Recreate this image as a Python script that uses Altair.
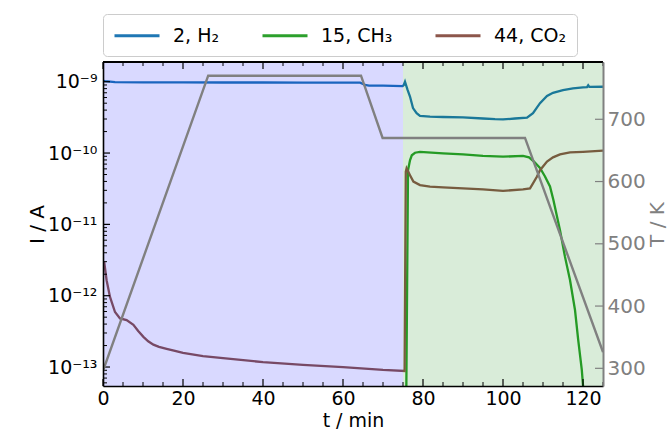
import altair as alt
import pandas as pd

# ---------------- data ----------------
series_names = ["2, H₂", "15, CH₃", "44, CO₂"]
series_colors = ["#1f77b4", "#2ca02c", "#8c564b"]

# m/z 2 (H2) ion current, t in min, I in A
h2_t = [0, 0.5, 3, 10, 20, 30, 40, 50, 60, 64.3, 65.5, 66.5, 70, 74.9, 75.2, 75.5,
        76.1, 76.75, 77.5, 78.4, 79.25, 81.75, 85, 90, 95, 98, 100, 103, 106, 107.5,
        109.25, 111, 112.5, 115, 117.5, 120, 121, 121.3, 121.6, 125]
h2_i = [1.03e-9, 1.02e-9, 9.9e-10, 9.8e-10, 9.8e-10, 9.75e-10, 9.75e-10, 9.7e-10, 9.7e-10,
        9.7e-10, 9.0e-10, 8.8e-10, 8.8e-10, 8.7e-10, 9.0e-10, 1.0e-9,
        7.8e-10, 6.2e-10, 4.27e-10, 3.63e-10, 3.33e-10, 3.24e-10, 3.2e-10, 3.16e-10, 3.05e-10,
        2.98e-10, 2.96e-10, 3.05e-10, 3.13e-10, 3.63e-10, 5.0e-10, 6.3e-10, 7.0e-10, 7.6e-10,
        8.07e-10, 8.34e-10, 8.4e-10, 8.9e-10, 8.45e-10, 8.5e-10]

# m/z 15 (CH3) ion current
ch3_t = [75.6, 76.25, 76.75, 77.2, 78, 79.25, 85, 90, 95, 100, 105, 106.5, 107.75, 109.25,
         110.5, 111.75, 112.6, 114.25, 115.5, 116.75, 118, 118.8, 119.7, 120.2, 121, 125]
ch3_i = [1e-15, 5.75e-11, 7.9e-11, 9.3e-11, 1.01e-10, 1.04e-10, 9.9e-11, 9.55e-11, 9.1e-11,
         8.9e-11, 9.1e-11, 8.7e-11, 7.6e-11, 6.2e-11, 4.7e-11, 3.4e-11, 2.2e-11, 8.3e-12,
         3.5e-12, 1.66e-12, 6.3e-13, 2.4e-13, 9.1e-14, 4e-14, 1e-15, 1e-16]

# m/z 44 (CO2) ion current
co2_t = [0.3, 0.9, 1.75, 3.0, 4.25, 5.9, 7.6, 8.8, 10.1, 11.3, 12.6, 14.0, 15.9, 18, 20, 25,
         30, 40, 50, 60, 70, 75.4, 75.7, 75.9, 76.75, 77.6, 79.25, 81.75, 85, 90, 95, 100,
         105, 106.75, 107.5, 108.5, 109.25, 111, 112.5, 114.25, 116.75, 120, 125]
co2_i = [2.98e-12, 1.65e-12, 9.6e-13, 5.9e-13, 4.8e-13, 4.54e-13, 3.9e-13, 3.2e-13, 2.65e-13,
         2.3e-13, 2.06e-13, 1.92e-13, 1.8e-13, 1.68e-13, 1.58e-13, 1.42e-13, 1.33e-13,
         1.17e-13, 1.07e-13, 1.0e-13, 9.1e-14, 8.8e-14, 5.5e-11, 6.1e-11, 4.9e-11, 3.98e-11,
         3.55e-11, 3.39e-11, 3.31e-11, 3.2e-11, 3.09e-11, 2.95e-11, 3.09e-11, 3.2e-11,
         3.76e-11, 4.68e-11, 5.75e-11, 7.6e-11, 8.7e-11, 9.55e-11, 1.02e-10, 1.04e-10,
         1.08e-10]

# sample temperature program
temp_t = [0, 26.3, 64.5, 69.9, 105.5, 125]
temp_k = [296, 770, 770, 670, 670, 326]

# gas atmosphere phases
phase_start = [0, 75]
phase_end = [75, 125]
phase_fill = ["blue", "green"]

# axis ticks
x_major = [0, 20, 40, 60, 80, 100, 120]
x_minor = [v for v in range(0, 126, 5) if v % 20 != 0]
i_major = [1e-13, 1e-12, 1e-11, 1e-10, 1e-9]
i_minor = [k * 10.0 ** e for e in range(-14, -8) for k in range(2, 10)
           if 5.42e-14 <= k * 10.0 ** e <= 1.89e-9]
t_major = [300, 400, 500, 600, 700]

# ---------------- tables ----------------
ions = pd.concat([
    pd.DataFrame({"t": h2_t, "I": h2_i, "series": series_names[0]}),
    pd.DataFrame({"t": ch3_t, "I": ch3_i, "series": series_names[1]}),
    pd.DataFrame({"t": co2_t, "I": co2_i, "series": series_names[2]}),
], ignore_index=True)
temps = pd.DataFrame({"t": temp_t, "T": temp_k})
phases = pd.DataFrame({"start": phase_start, "end": phase_end, "fill": phase_fill})

W, H = 500, 324
FONT = "DejaVu Sans"
FS = 20

x_scale = alt.Scale(domain=[0, 125], nice=False, zero=False)
i_scale = alt.Scale(type="log", domain=[5.42e-14, 1.89e-9], nice=False)
t_scale = alt.Scale(domain=[271.6, 792], nice=False, zero=False)

x_axis = alt.Axis(title="t / min", values=x_major, ticks=False, grid=False,
                  domainColor="black", domainWidth=1.6, labelFontSize=19, titleFontSize=19,
                  labelPadding=3, titleY=25, titleBaseline="top",
                  labelColor="black", titleColor="black",
                  titleFontWeight="normal", labelFlush=False, labelOverlap=False, zindex=1)

exp_label = ("round(log(datum.value)/LN10) == -9 ? '10⁻⁹' : "
             "round(log(datum.value)/LN10) == -10 ? '10⁻¹⁰' : "
             "round(log(datum.value)/LN10) == -11 ? '10⁻¹¹' : "
             "round(log(datum.value)/LN10) == -12 ? '10⁻¹²' : "
             "round(log(datum.value)/LN10) == -13 ? '10⁻¹³' : ''")
i_axis = alt.Axis(title="I / A", orient="left", values=i_major, labelExpr=exp_label,
                  ticks=False, grid=False, domainColor="black", domainWidth=1.6,
                  labelFontSize=19, titleFontSize=FS, labelPadding=6,
                  titleX=-56, titleBaseline="bottom",
                  labelColor="black", titleColor="black", titleFontWeight="normal",
                  labelFlush=False, labelOverlap=False, zindex=1)

t_axis = alt.Axis(title="T / K", orient="right", values=t_major, ticks=False, grid=False,
                  domainColor="gray", domainWidth=2, labelColor="gray", titleColor="gray",
                  labelFontSize=FS, titleFontSize=FS, labelPadding=4,
                  titleAngle=270, titleX=44, titleBaseline="top",
                  titleFontWeight="normal", labelFlush=False,
                  labelOverlap=False, zindex=1)

X = alt.X("t:Q", scale=x_scale, axis=x_axis)

# legend line symbol: a horizontal stroke drawn from the entry's left edge
legend = alt.Legend(orient="none", legendX=0, legendY=-48, direction="horizontal",
                    columns=3, title=None, symbolType="M-1,0H3.5", symbolSize=400,
                    symbolStrokeWidth=3, labelFontSize=19, labelFont=FONT, labelOffset=37,
                    columnPadding=36, padding=10, fillColor="white", strokeColor="#cccccc",
                    cornerRadius=4, labelLimit=0)

ion_lines = alt.Chart(ions).mark_line(strokeWidth=2.3, clip=True).encode(
    x=X,
    y=alt.Y("I:Q", scale=i_scale, axis=i_axis),
    color=alt.Color("series:N", scale=alt.Scale(domain=series_names, range=series_colors),
                    legend=legend),
    detail="series:N",
)

spans = alt.Chart(phases).mark_rect(opacity=0.15).encode(
    x=alt.X("start:Q", scale=x_scale, axis=x_axis),
    x2="end:Q",
    fill=alt.Fill("fill:N", scale=None),
)

# inward ticks on the left frame (log current axis)
i_ticks_major = alt.Chart(pd.DataFrame({"I": i_major})).mark_rule(
    color="black", strokeWidth=1.2).encode(
    y=alt.Y("I:Q", scale=i_scale, axis=i_axis), x=alt.value(0), x2=alt.value(7))
i_ticks_minor = alt.Chart(pd.DataFrame({"I": i_minor})).mark_rule(
    color="black", strokeWidth=1).encode(
    y=alt.Y("I:Q", scale=i_scale, axis=i_axis), x=alt.value(0), x2=alt.value(4))

# inward ticks on top and bottom frames (time axis)
xt_major = pd.DataFrame({"t": x_major})
xt_minor = pd.DataFrame({"t": x_minor})
bottom_major = alt.Chart(xt_major).mark_rule(color="black", strokeWidth=1.2).encode(
    x=X, y=alt.value(H - 7), y2=alt.value(H))
bottom_minor = alt.Chart(xt_minor).mark_rule(color="black", strokeWidth=1).encode(
    x=X, y=alt.value(H - 4), y2=alt.value(H))
top_major = alt.Chart(xt_major).mark_rule(color="black", strokeWidth=1.2).encode(
    x=X, y=alt.value(0), y2=alt.value(7))
top_minor = alt.Chart(xt_minor).mark_rule(color="black", strokeWidth=1).encode(
    x=X, y=alt.value(0), y2=alt.value(4))
top_frame = alt.Chart(xt_major).mark_rule(color="black", strokeWidth=1.6).encode(
    x=alt.value(0), x2=alt.value(W), y=alt.value(0))

current_group = alt.layer(ion_lines, spans, i_ticks_major, i_ticks_minor,
                          bottom_major, bottom_minor, top_major, top_minor, top_frame)

temp_line = alt.Chart(temps).mark_line(color="gray", strokeWidth=2.4, clip=True).encode(
    x=X, y=alt.Y("T:Q", scale=t_scale, axis=t_axis))
t_ticks = alt.Chart(pd.DataFrame({"T": t_major})).mark_rule(
    color="gray", strokeWidth=1.2).encode(
    y=alt.Y("T:Q", scale=t_scale, axis=t_axis), x=alt.value(W - 8), x2=alt.value(W))

temp_group = alt.layer(temp_line, t_ticks)

chart = alt.layer(current_group, temp_group).resolve_scale(y="independent").properties(
    width=W, height=H,
    autosize=alt.AutoSizeParams(type="none"),
    padding={"left": 103, "top": 62, "right": 68, "bottom": 46},
).configure_view(stroke=None).configure(font=FONT).configure_axis(
    labelFont=FONT, titleFont=FONT)

chart.save("out.html", embed_options={"renderer": "svg", "actions": False})
